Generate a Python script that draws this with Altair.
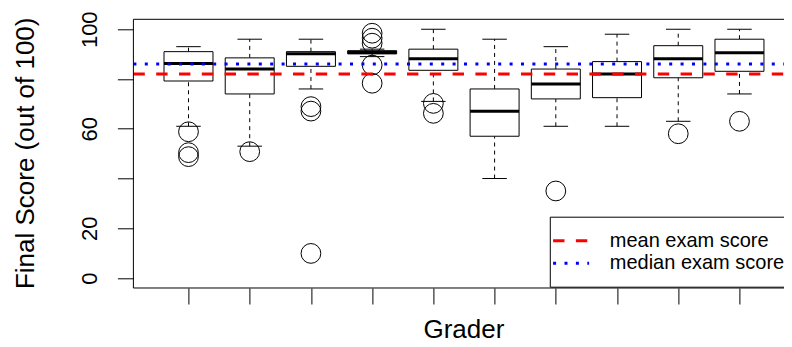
import altair as alt
import pandas as pd

# ---- data ----
graders = [1, 2, 3, 4, 5, 6, 7, 8, 9, 10]
whisker_low = [61.0, 53.0, 76.0, 89.0, 71.0, 40.0, 61.0, 61.0, 63.0, 74.0]
q1 = [79.2, 74.0, 85.1, 90.1, 83.5, 57.0, 72.0, 72.5, 80.5, 83.1]
median = [86.2, 84.0, 90.2, 90.7, 88.1, 67.0, 78.0, 82.0, 88.1, 90.6]
q3 = [91.0, 88.5, 91.0, 91.4, 92.0, 76.0, 84.0, 87.0, 93.4, 96.0]
whisker_high = [93.0, 96.0, 96.0, 92.0, 100.0, 96.0, 93.0, 98.0, 100.0, 100.0]

outlier_grader = [1, 1, 1, 2, 3, 3, 3, 4, 4, 4, 4, 4, 5, 5, 7, 9, 10]
outlier_score = [58.8, 50.4, 48.8, 50.8, 68.9, 67.1, 9.9, 98.4, 96.4, 94.4,
                 85.6, 78.3, 70.2, 66.2, 35.0, 58.0, 63.0]

ref_labels = ["mean exam score", "median exam score"]
ref_values = [82.0, 86.0]
ref_colors = ["#FF0000", "#0000FF"]

y_ticks = [0, 20, 40, 60, 80, 100]

# ---- tables ----
box = pd.DataFrame({"grader": graders, "lo": whisker_low, "q1": q1,
                    "med": median, "q3": q3, "hi": whisker_high})
out = pd.DataFrame({"grader": outlier_grader, "score": outlier_score})
ref = pd.DataFrame({"series": ref_labels, "value": ref_values})
frame_df = pd.DataFrame({"k": [0]})

FONT = "Liberation Sans"
PX_PER_UNIT = 61.22
W = 650.5
H = 268.7

xs = alt.Scale(domain=[0.1, 0.1 + W / PX_PER_UNIT], nice=False, zero=False)
ys = alt.Scale(domain=[-4, 104], nice=False, zero=False)

xaxis = alt.Axis(values=graders, labels=False, tickSize=16, domain=False, grid=False,
                 title="Grader", titleFontSize=26, titleX=330, titleY=49.5,
                 titleAlign="center", titleBaseline="alphabetic")
yaxis = alt.Axis(values=y_ticks, tickSize=16, domain=False, grid=False,
                 labelExpr="datum.value == 40 || datum.value == 80 ? '' : datum.label",
                 labelAngle=270, labelAlign="center", labelBaseline="alphabetic",
                 labelPadding=20.7, labelFontSize=22,
                 title="Final Score (out of 100)", titleFontSize=26, titleAngle=270,
                 titleX=-100.1, titleY=133.5, titleAlign="center",
                 titleBaseline="alphabetic")


def X(field):
    return alt.X(field, scale=xs, axis=xaxis)


def Y(field):
    return alt.Y(field, scale=ys, axis=yaxis)


base = alt.Chart(box).transform_calculate(
    xl="datum.grader - 0.4", xr="datum.grader + 0.4",
    cl="datum.grader - 0.2", cr="datum.grader + 0.2")

whisk_lo = base.mark_rule(color="black", strokeWidth=1, strokeDash=[4, 4]).encode(
    x=X("grader:Q"), y=Y("lo:Q"), y2="q1:Q")
whisk_hi = base.mark_rule(color="black", strokeWidth=1, strokeDash=[4, 4]).encode(
    x=X("grader:Q"), y=Y("q3:Q"), y2="hi:Q")
cap_lo = base.mark_rule(color="black", strokeWidth=1).encode(
    x=X("cl:Q"), x2="cr:Q", y=Y("lo:Q"))
cap_hi = base.mark_rule(color="black", strokeWidth=1).encode(
    x=X("cl:Q"), x2="cr:Q", y=Y("hi:Q"))
boxes = base.mark_rect(fill="white", stroke="black", strokeWidth=1).encode(
    x=X("xl:Q"), x2="xr:Q", y=Y("q1:Q"), y2="q3:Q")
meds = base.mark_rule(color="black", strokeWidth=3).encode(
    x=X("xl:Q"), x2="xr:Q", y=Y("med:Q"))

outliers = alt.Chart(out).mark_point(shape="circle", filled=False, size=390,
                                     color="black", strokeWidth=1, opacity=1).encode(
    x=X("grader:Q"), y=Y("score:Q"))

leg = alt.Legend(orient="none", legendX=416.4, legendY=197.4, title=None,
                 symbolType="M-2.07,0H1.53", symbolSize=400, symbolStrokeWidth=3,
                 labelFontSize=20, labelFont=FONT, labelColor="black",
                 labelOffset=24.5, padding=12.5, rowPadding=0.6,
                 strokeColor="black", fillColor="white", cornerRadius=0,
                 labelLimit=400)

refs = alt.Chart(ref).mark_rule(strokeWidth=3, strokeCap="butt").encode(
    y=Y("value:Q"), x=alt.value(0), x2=alt.value(W),
    color=alt.Color("series:N", scale=alt.Scale(domain=ref_labels, range=ref_colors),
                    legend=leg),
    strokeDash=alt.StrokeDash("series:N",
                              scale=alt.Scale(domain=ref_labels,
                                              range=[[11.4, 11.4], [3, 8.4]]),
                              legend=leg))

frame = alt.Chart(frame_df).mark_rect(fillOpacity=0, stroke="black", strokeWidth=1).encode(
    x=alt.value(0), x2=alt.value(W + 40), y=alt.value(0), y2=alt.value(H))

chart = alt.layer(whisk_lo, whisk_hi, cap_lo, cap_hi, boxes, meds, outliers, refs, frame).properties(
    width=W, height=H,
    padding={"left": 125.4, "top": 11.3, "right": 0, "bottom": 50},
    autosize=alt.AutoSizeParams(type="none"),
).configure_view(stroke=None).configure_axis(
    labelFont=FONT, titleFont=FONT, labelColor="black", titleColor="black",
    tickColor="black", titleFontWeight="normal", tickWidth=1
)

chart.save("out.html", embed_options={"renderer": "svg", "actions": False})
